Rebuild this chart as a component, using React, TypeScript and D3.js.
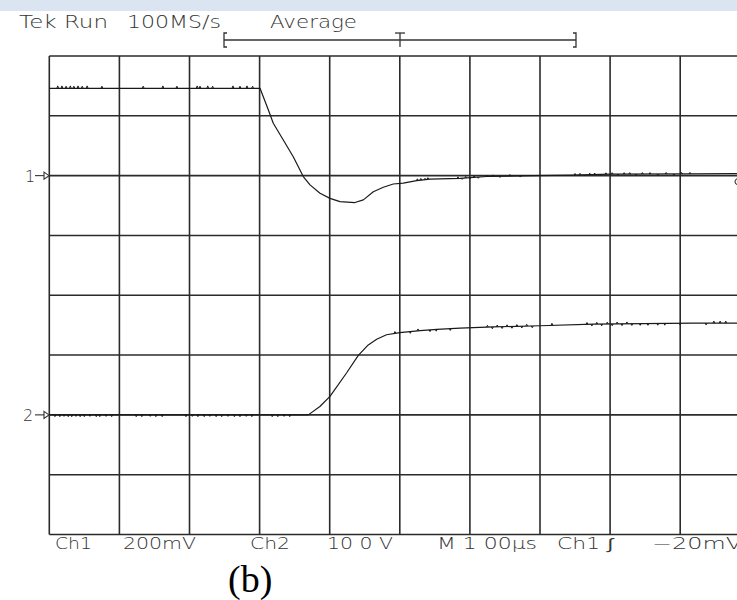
import React from "react";
import * as d3 from "d3";

// time in µs (100 µs/div), Ch1 in mV (200 mV/div), Ch2 in V (10 V/div)
const ch1Trace: [number, number][] = [
  [0, 292], [300.6, 292], [312.4, 220], [319.5, 175], [333.8, 119], [348, 63],
  [362.3, -3], [371.9, -31], [386.2, -59], [400.4, -76], [414.7, -87], [436, -90],
  [448, -81], [462.2, -54], [476.5, -39], [490.7, -28], [505, -25], [524, -17],
  [543, -12], [586, -9], [624, -3], [690, 0], [747, 2], [800, 4.7], [918, 5.7], [1000, 6.7],
];
const ch2Trace: [number, number][] = [
  [0, 0], [369.5, 0], [386, 1.4], [400.4, 3.1], [424, 7.0], [440.8, 9.95], [455, 11.7],
  [467, 12.65], [481, 13.4], [500, 13.76], [529, 14.1], [553, 14.3], [586, 14.5],
  [633, 14.7], [700, 14.9], [776, 15.17], [847, 15.27], [919, 15.33], [1000, 15.33],
];
// small noise glitches: [time µs, deviation]
const ch1Glitches: [number, number][] = [
  [12, 8], [18, 8], [24, 7], [30, 8], [35, 7], [41, 8], [47, 7], [54, 8], [75, 7],
  [134, 7], [162, 8], [182, 7], [211, 8], [215, 7], [226, 8], [233, 7], [262, 8],
  [272, 7], [282, 8], [290, 7],
  [525, 6], [530, 6], [536, 5], [540, 6], [583, 5], [589, -4], [594, 5], [600, -4],
  [606, 5], [612, -4], [624, 5], [633, 5], [643, -4], [657, 5], [672, -4],
  [750, 5], [757, 5], [764, -4], [771, 5], [778, 5], [786, -4], [794, 5], [803, 5],
  [811, -4], [820, 5], [828, 5], [837, -4], [846, 5], [857, 5], [868, -4], [880, 5],
  [891, -4], [902, 5], [914, 5],
];
const ch2Glitches: [number, number][] = [
  [8, -0.3], [15, -0.3], [21, -0.25], [27, -0.3], [32, -0.3], [38, -0.25], [44, -0.3],
  [50, -0.3], [58, -0.25], [67, -0.3], [72, -0.3], [81, -0.25], [89, -0.3], [124, -0.3],
  [132, -0.3], [144, -0.25], [152, -0.3], [161, -0.3], [195, -0.3], [204, -0.25],
  [212, -0.3], [221, -0.3], [229, -0.25], [238, -0.3], [246, -0.3], [255, -0.25],
  [264, -0.3], [272, -0.3], [281, -0.25], [289, -0.3], [318, -0.3], [326, -0.3],
  [335, -0.25], [343, -0.3],
  [493, 0.3], [515, -0.3], [526, 0.3], [543, -0.3], [552, -0.3], [572, -0.3],
  [625, 0.3], [632, -0.3], [639, 0.3], [646, -0.3], [653, 0.3], [660, -0.3], [667, 0.3],
  [674, -0.3], [681, 0.3], [689, -0.3], [717, 0.35], [767, 0.3], [774, -0.3], [781, 0.3],
  [788, -0.3], [796, 0.3], [803, -0.3], [810, 0.3], [817, -0.3], [824, 0.3], [831, -0.3],
  [843, -0.3], [854, -0.3], [868, -0.3], [878, -0.3], [900, -0.3], [937, -0.3],
  [948, 0.35], [957, 0.35], [965, 0.35],
];
const timeDivs = [0, 100, 200, 300, 400, 500, 600, 700, 800, 900, 1000];
const vertDivs = [-4, -3, -2, -1, 0, 1, 2, 3, 4];
const headerLabels: [string, number, number][] = [
  ["Tek Run", 19, 89],
  ["100MS/s", 127, 94],
  ["Average", 270, 87],
];
const footerLabels: [string, number, number][] = [
  ["Ch1", 55, 37],
  ["200mV", 123, 73],
  ["Ch2", 250, 40],
  ["10 0 V", 327, 66],
  ["M 1 00µs", 437, 100],
  ["Ch1 ∫", 557, 56],
  ["−20mV", 652, 90],
];
const ch1Offset = 2; // divisions
const ch2Offset = -2;
const ch1Scale = 200; // mV/div
const ch2Scale = 10; // V/div

function valueAt(series: [number, number][], t: number) {
  const i = Math.max(0, d3.bisector((d: [number, number]) => d[0]).right(series, t) - 1);
  const a = series[i];
  const b = series[Math.min(i + 1, series.length - 1)];
  if (b[0] === a[0]) return a[1];
  return a[1] + ((b[1] - a[1]) * (t - a[0])) / (b[0] - a[0]);
}

export default function App() {
  const W = 737;
  const H = 600;
  const x = d3.scaleLinear().domain([0, 1000]).range([49.3, 750.3]);
  const y = d3.scaleLinear().domain([-4, 4]).range([534.5, 56]);
  const y1 = (mv: number) => y(ch1Offset + mv / ch1Scale);
  const y2 = (v: number) => y(ch2Offset + v / ch2Scale);
  const line1 = d3.line<[number, number]>().x((d) => x(d[0])).y((d) => y1(d[1]));
  const line2 = d3.line<[number, number]>().x((d) => x(d[0])).y((d) => y2(d[1]));
  const glitchPath = (
    series: [number, number][],
    g: [number, number][],
    line: d3.Line<[number, number]>
  ) =>
    g
      .map(([t, dv]) => {
        const b0 = valueAt(series, t - 1.3);
        const b1 = valueAt(series, t);
        const b2 = valueAt(series, t + 1.3);
        return line([
          [t - 1.3, b0],
          [t, b1 + dv],
          [t + 1.3, b2],
        ]);
      })
      .join("");

  const font = "'DejaVu Sans', sans-serif";
  const txt = "#333";
  const gridColor = "#2b2b2b";
  const left = x(0);

  return (
    <svg
      width={W}
      height={H}
      style={{ position: "absolute", left: 0, top: 0, background: "#fff" }}
    >
      <rect x={0} y={0} width={W} height={11} fill="#dbe5f1" />
      {headerLabels.map(([s, xs, len]) => (
        <text
          key={s}
          x={xs}
          y={28}
          fontFamily={font}
          fontWeight={200}
          fontSize={17}
          fill={txt}
          textLength={len}
          lengthAdjust="spacingAndGlyphs"
        >
          {s}
        </text>
      ))}
      {/* trigger bracket */}
      <g stroke="#333" strokeWidth={1.3} fill="none">
        <line x1={224} x2={576} y1={40} y2={40} />
        <path d="M227,33 H224 V47 H227" />
        <path d="M573,33 H576 V47 H573" />
        <line x1={395} x2={405} y1={33} y2={33} />
        <line x1={400} x2={400} y1={33} y2={47} />
      </g>
      {/* graticule */}
      <g stroke={gridColor} strokeWidth={1.6}>
        {timeDivs.map((t) => (
          <line key={"v" + t} x1={x(t)} x2={x(t)} y1={y(4)} y2={y(-4)} />
        ))}
        {vertDivs.map((v) => (
          <line key={"h" + v} x1={left} x2={x(1000)} y1={y(v)} y2={y(v)} />
        ))}
      </g>
      {/* traces */}
      <g fill="none" stroke="#1a1a1a" strokeWidth={1.2} strokeLinejoin="round">
        <path d={line1(ch1Trace) || ""} />
        <path d={line2(ch2Trace) || ""} />
        <path d={glitchPath(ch1Trace, ch1Glitches, line1)} strokeWidth={1} />
        <path d={glitchPath(ch2Trace, ch2Glitches, line2)} strokeWidth={1} />
      </g>
      {/* channel markers */}
      {[
        ["1", y(ch1Offset)],
        ["2", y(ch2Offset)],
      ].map(([s, yy]) => (
        <g key={s as string}>
          <text
            x={s === "1" ? 25 : 23}
            y={(yy as number) + 6}
            fontFamily={font}
            fontWeight={200}
            fontSize={16}
            fill={txt}
          >
            {s}
          </text>
          <line x1={35} x2={44} y1={yy as number} y2={yy as number} stroke="#333" strokeWidth={1.1} />
          <path
            d={`M44,${(yy as number) - 3.5} L49,${yy as number} L44,${(yy as number) + 3.5} Z`}
            fill="#fff"
            stroke="#333"
            strokeWidth={1.1}
          />
        </g>
      ))}
      {/* trigger level marker at right */}
      <path d={`M737,${y1(0) + 3} Q733,${y1(0) + 6} 737,${y1(0) + 9}`} fill="none" stroke="#333" strokeWidth={1.1} />
      {footerLabels.map(([s, xs, len]) => (
        <text
          key={s}
          x={xs}
          y={549}
          fontFamily={font}
          fontWeight={200}
          fontSize={15}
          fill={txt}
          textLength={len}
          lengthAdjust="spacingAndGlyphs"
        >
          {s}
        </text>
      ))}
      <text x={228} y={592} fontFamily="'Liberation Serif', 'Times New Roman', serif" fontSize={38} fill="#000">
        (b)
      </text>
    </svg>
  );
}
